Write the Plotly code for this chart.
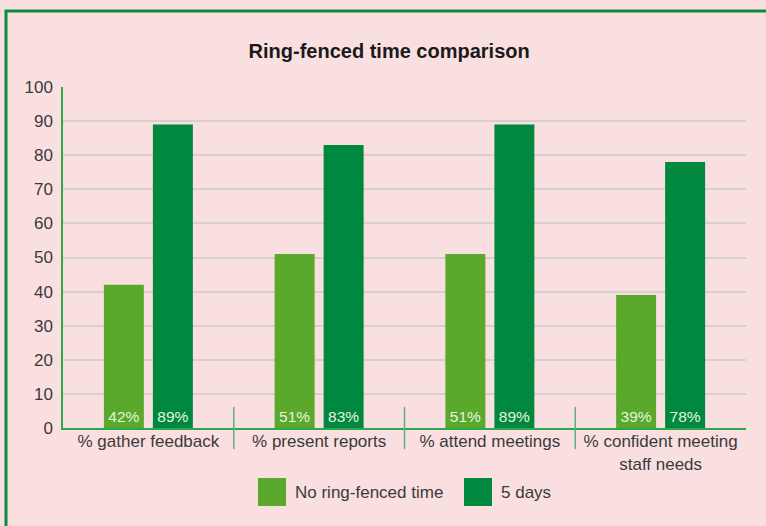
import plotly.graph_objects as go

categories = ["% gather feedback", "% present reports", "% attend meetings",
              "% confident meeting<br>staff needs"]
series_names = ["No ring-fenced time", "5 days"]
no_ringfenced = [42, 51, 51, 39]
five_days = [89, 83, 89, 78]
series_values = [no_ringfenced, five_days]
series_colors = ["#5aa92d", "#00883e"]
y_ticks = [0, 10, 20, 30, 40, 50, 60, 70, 80, 90, 100]
title_text = "Ring-fenced time comparison"

FONT = "Liberation Sans, Arial, sans-serif"
TXT = "#3a3a3a"
BG = "#fadfe1"

fig = go.Figure()
for name, vals, col in zip(series_names, series_values, series_colors):
    fig.add_trace(go.Bar(
        x=categories, y=vals, name=name, marker_color=col, marker_line_width=0,
        text=[f"{v}%" for v in vals], textposition="inside",
        insidetextanchor="start", textangle=0,
        textfont=dict(family=FONT, size=15.5, color="#e6f3df"),
        showlegend=False, cliponaxis=False,
    ))

W, H = 766, 526
L, R, T, B = 63, 20, 87, 98
pw, ph = W - L - R, H - T - B

def px(x):
    return (x - L) / pw

def py(y):
    return (H - B - y) / ph

shapes = []
# outer frame
shapes.append(dict(type="rect", xref="paper", yref="paper",
                   x0=px(6), x1=px(820), y0=py(580), y1=py(11),
                   line=dict(color="#0a8a45", width=3), fillcolor="rgba(0,0,0,0)",
                   layer="below"))
# category separators
n = len(categories)
for i in range(n - 1):
    shapes.append(dict(type="line", xref="x domain", yref="paper",
                       x0=(i + 1) / n, x1=(i + 1) / n, y0=py(449), y1=py(407),
                       line=dict(color="#5fae7c", width=1.5)))

annotations = []
# custom legend
legend_pos = [(258, 293), (464, 499)]
for (sx, tx), name, col in zip(legend_pos, series_names, series_colors):
    shapes.append(dict(type="rect", xref="paper", yref="paper",
                       x0=px(sx), x1=px(sx + 28), y0=py(506), y1=py(478),
                       fillcolor=col, line=dict(width=0)))
    annotations.append(dict(xref="paper", yref="paper", x=px(tx), y=py(492),
                            xanchor="left", yanchor="middle", showarrow=False,
                            text=name, font=dict(family=FONT, size=17, color=TXT)))

fig.update_layout(
    width=W, height=H,
    margin=dict(l=L, r=R, t=T, b=B, pad=0),
    paper_bgcolor=BG, plot_bgcolor=BG,
    barmode="group", bargap=0.426, bargroupgap=0.184,
    title=dict(text=f"<b>{title_text}</b>", x=0.508, xanchor="center",
               y=1 - 51 / H, yanchor="middle", yref="container",
               font=dict(family=FONT, size=20, color="#1a1a1a")),
    font=dict(family=FONT, color=TXT),
    shapes=shapes, annotations=annotations,
    showlegend=False,
)
fig.update_xaxes(showline=True, linecolor="#2ea84c", linewidth=2,
                 showgrid=False, ticks="", tickfont=dict(size=17, color=TXT),
                 ticklabelstandoff=-3,
                 range=[-0.5, n - 0.5])
fig.update_yaxes(range=[0, 100], tickvals=y_ticks, showline=True,
                 linecolor="#2ea84c", linewidth=1.5, zeroline=False,
                 showgrid=True, gridcolor="#d8d0cf", gridwidth=1.5,
                 ticks="", ticklabelstandoff=5,
                 tickfont=dict(size=17, color=TXT))

fig.write_html("out.html", config={"displayModeBar": False},
               post_script="document.body.style.margin='0';document.body.style.overflow='hidden';")
